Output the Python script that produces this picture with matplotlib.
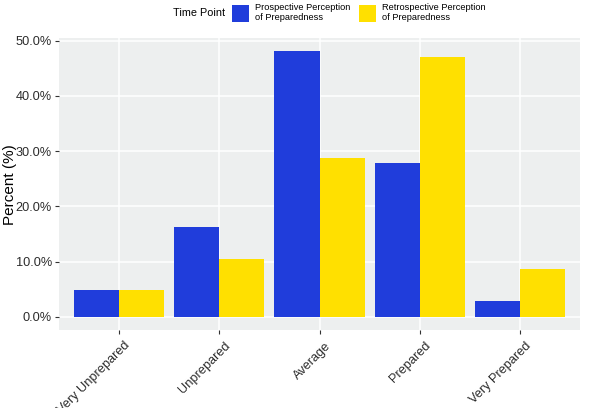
import matplotlib
matplotlib.use("Agg")
import matplotlib.pyplot as plt
import matplotlib.transforms as mtransforms
import numpy as np
from matplotlib.ticker import FuncFormatter

plt.rcParams['font.family'] = ['Liberation Sans', 'DejaVu Sans']

categories = ["Very Unprepared", "Unprepared", "Average", "Prepared", "Very Prepared"]
series_names = ["Prospective Perception\nof Preparedness", "Retrospective Perception\nof Preparedness"]
prospective = [4.8, 16.2, 48.1, 27.9, 2.9]
retrospective = [4.8, 10.5, 28.8, 47.1, 8.7]
yticks = [0, 10, 20, 30, 40, 50]
colors = ["#203DDB", "#FFE000"]

W, H = 600, 408
fig = plt.figure(figsize=(W / 100, H / 100), dpi=100)
ax = fig.add_axes([59 / W, 1 - 330 / H, (580 - 59) / W, (330 - 38) / H])
ax.set_facecolor("#EDEFEF")

x = np.arange(1, len(categories) + 1)
bw = 0.45
handles = []
for i, (vals, c) in enumerate(zip([prospective, retrospective], colors)):
    b = ax.bar(x + (i - 0.5) * bw, vals, width=bw, color=c, edgecolor='none', zorder=3,
               label=series_names[i])
    handles.append(b)

ax.set_xlim(0.4, 5.6)
ax.set_ylim(-2.4, 50.5)
ax.set_yticks(yticks)
ax.yaxis.set_major_formatter(FuncFormatter(lambda v, p: f"{v:.1f}%"))
ax.set_xticks(x)
ax.set_xticklabels(categories, rotation=45, ha='right', va='top', rotation_mode='anchor')
ax.grid(True, color='white', linewidth=1.1, zorder=0)
ax.set_axisbelow(True)
for s in ax.spines.values():
    s.set_visible(False)
ax.tick_params(axis='both', colors='#333333', labelsize=9.2, length=3, width=0.8, pad=2)
ax.tick_params(axis='x', pad=4)
offset = mtransforms.ScaledTranslation(5 / 100, 0, fig.dpi_scale_trans)
for t in ax.get_xticklabels():
    t.set_transform(t.get_transform() + offset)
for t in ax.get_xticklabels() + ax.get_yticklabels():
    t.set_color('#2b2b2b')

fig.text(10 / W, 1 - 185 / H, "Percent (%)", rotation=90, ha='center', va='center',
         fontsize=11, color='black')

fig.text(225 / W, 1 - 12.5 / H, "Time Point", ha='right', va='center', fontsize=7.8, color='black')
leg = fig.legend(handles=handles, labels=series_names, loc='upper left',
                 bbox_to_anchor=(232 / W, 1 - 3 / H), ncol=2, frameon=False,
                 fontsize=6.7, handlelength=1.85, handleheight=2.4, handletextpad=0.65,
                 columnspacing=0.9, borderpad=0, borderaxespad=0)

fig.savefig("out.png", dpi=100)
